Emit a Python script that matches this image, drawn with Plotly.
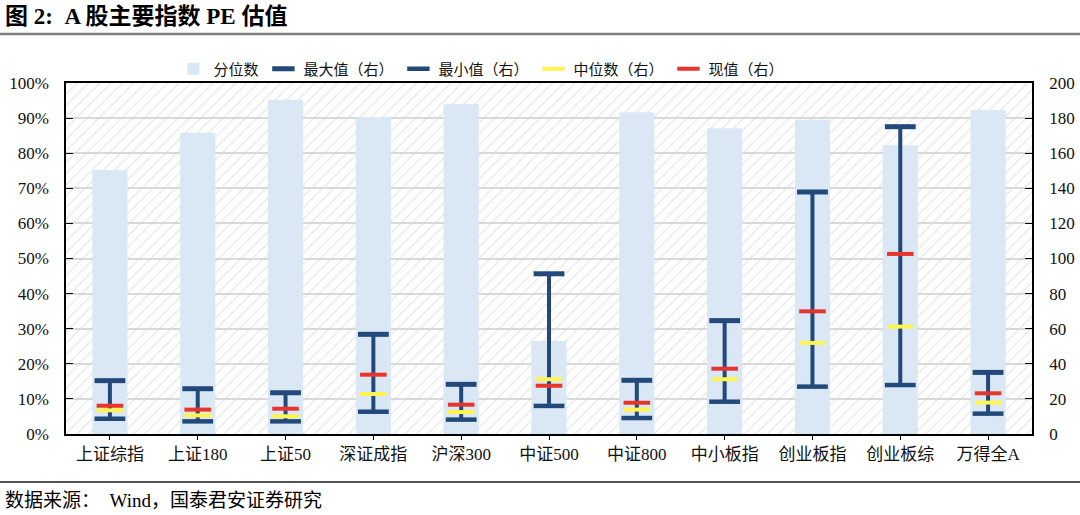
import plotly.graph_objects as go

# index names and values
names = ["上证综指", "上证180", "上证50", "深证成指", "沪深300", "中证500",
         "中证800", "中小板指", "创业板指", "创业板综", "万得全A"]
pct = [75.2, 85.8, 95.2, 90.3, 94.0, 26.5, 91.7, 87.1, 89.5, 82.3, 92.3]   # 分位数 (%)
pe_max = [30.4, 25.8, 23.5, 56.8, 28.3, 91.3, 30.6, 64.6, 137.9, 175.1, 35.1]
pe_min = [8.7, 7.2, 7.2, 12.7, 8.2, 16.0, 9.1, 18.4, 27.0, 27.9, 11.6]
pe_med = [13.5, 10.6, 10.1, 22.8, 12.5, 31.2, 13.9, 31.2, 51.9, 61.2, 17.9]
pe_now = [16.1, 13.9, 14.4, 33.8, 16.7, 27.5, 17.8, 37.2, 69.9, 102.6, 23.2]

NAVY = "#23497A"
FONT = "Times New Roman, Liberation Serif, Noto Sans CJK SC"

# vertical min-max segments
seg_x, seg_y = [], []
for n, lo, hi in zip(names, pe_min, pe_max):
    seg_x += [n, n, None]
    seg_y += [lo, hi, None]

fig = go.Figure()

# hatched plot background on the base (hidden) axes
fig.add_trace(go.Scatter(
    x=[0, 1, 1, 0, 0], y=[0, 0, 1, 1, 0], xaxis="x", yaxis="y",
    mode="lines", line=dict(width=0), fill="toself",
    fillcolor="rgba(0,0,0,0)",
    fillpattern=dict(shape="/", fgcolor="#D8D8D8", bgcolor="rgba(0,0,0,0)",
                     size=8, solidity=0.2),
    showlegend=False, hoverinfo="skip"))

fig.add_trace(go.Bar(x=names, y=pct, name="分位数", xaxis="x2", yaxis="y2",
                     marker=dict(color="#DAE8F5", line=dict(width=0)), width=0.4))

fig.add_trace(go.Scatter(x=seg_x, y=seg_y, xaxis="x2", yaxis="y3", mode="lines",
                         line=dict(color=NAVY, width=4), showlegend=False,
                         hoverinfo="skip"))

fig.add_trace(go.Scatter(x=names, y=pe_max, name="最大值（右）", xaxis="x2", yaxis="y3",
                         mode="markers",
                         marker=dict(symbol="line-ew", size=22,
                                     line=dict(color=NAVY, width=5))))
fig.add_trace(go.Scatter(x=names, y=pe_min, name="最小值（右）", xaxis="x2", yaxis="y3",
                         mode="markers",
                         marker=dict(symbol="line-ew", size=22,
                                     line=dict(color=NAVY, width=4.5))))
fig.add_trace(go.Scatter(x=names, y=pe_med, name="中位数（右）", xaxis="x2", yaxis="y3",
                         mode="markers",
                         marker=dict(symbol="line-ew", size=19,
                                     line=dict(color="#FFF450", width=4))))
fig.add_trace(go.Scatter(x=names, y=pe_now, name="现值（右）", xaxis="x2", yaxis="y3",
                         mode="markers",
                         marker=dict(symbol="line-ew", size=19,
                                     line=dict(color="#E8352C", width=4))))

fig.update_layout(
    width=1080, height=515,
    margin=dict(l=66, r=48, t=83, b=81, autoexpand=False),
    paper_bgcolor="white", plot_bgcolor="white",
    font=dict(family=FONT, size=15, color="#111111"),
    barmode="overlay",
    xaxis=dict(range=[0, 1], visible=False, fixedrange=True),
    yaxis=dict(range=[0, 1], visible=False, fixedrange=True),
    xaxis2=dict(overlaying="x", type="category", range=[-0.5, len(names) - 0.5],
                showline=True, linecolor="black",
                linewidth=1.5, mirror=True, ticks="outside", ticklen=4,
                tickcolor="black", showgrid=False, tickfont=dict(size=17),
                automargin=False),
    yaxis2=dict(overlaying="y", side="left", range=[0, 100], dtick=10,
                ticksuffix="%", showline=True, linecolor="black", linewidth=1.5,
                ticks="inside", ticklen=7, tickcolor="black",
                showgrid=True, gridcolor="#D9D9D9", gridwidth=1.5,
                tickfont=dict(size=17), zeroline=False, ticklabelstandoff=12,
                automargin=False),
    yaxis3=dict(overlaying="y", side="right", range=[0, 200], dtick=20,
                showline=True, linecolor="black", linewidth=1.5,
                ticks="inside", ticklen=7, tickcolor="black", showgrid=False,
                tickfont=dict(size=17), zeroline=False, ticklabelstandoff=12,
                automargin=False),
    legend=dict(orientation="h", x=0.43, xanchor="center", y=1.04, yanchor="middle",
                font=dict(size=15), bgcolor="rgba(0,0,0,0)", itemwidth=30,
                traceorder="normal"),
)

# title, rules and source
fig.add_annotation(text="<b>图 2:  A 股主要指数 PE 估值</b>", xref="paper", yref="paper",
                   x=-0.065, y=1.19, xanchor="left", yanchor="middle",
                   showarrow=False, font=dict(size=23, color="black"))
fig.add_shape(type="line", xref="paper", yref="paper", x0=-0.07, x1=1.05,
              y0=1.1396, y1=1.1396, line=dict(color="#7F7F7F", width=2.5))
fig.add_shape(type="line", xref="paper", yref="paper", x0=-0.07, x1=1.05,
              y0=-0.137, y1=-0.137, line=dict(color="#555555", width=2))
fig.add_annotation(text="数据来源：  Wind，国泰君安证券研究", xref="paper", yref="paper",
                   x=-0.065, y=-0.19, xanchor="left", yanchor="middle",
                   showarrow=False, font=dict(size=19, color="black"))

# drop the page's default body margin so the figure sits at the window corner
fig.write_html("out.html", config={"displayModeBar": False},
               post_script="document.body.style.margin='0px';")
